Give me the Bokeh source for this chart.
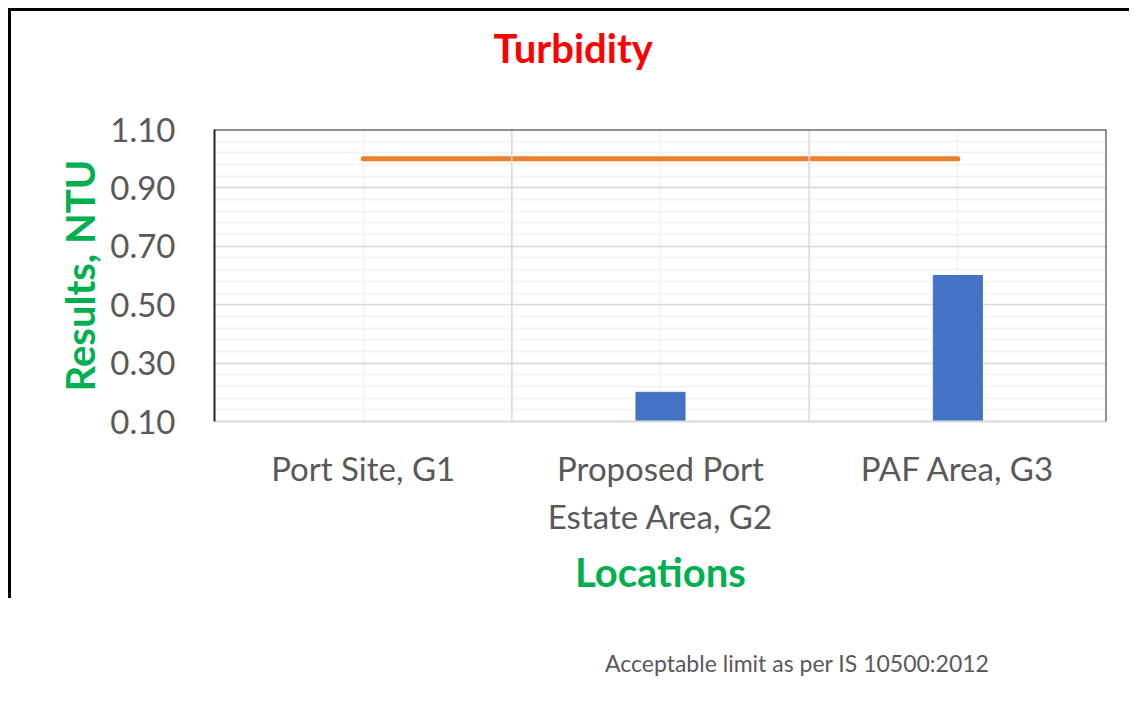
from bokeh.plotting import figure
from bokeh.layouts import column
from bokeh.models import (Range1d, FactorRange, FixedTicker, NumeralTickFormatter,
                          Span, Legend, LegendItem)
from bokeh.embed import file_html
from bokeh.resources import INLINE

# ---- data ----
categories = ["Port Site, G1", "Proposed Port\nEstate Area, G2", "PAF Area, G3"]
results = [0.1, 0.2, 0.6]
limit = [1.0, 1.0, 1.0]
limit_label = "Acceptable limit as per IS 10500:2012"
y_ticks = [0.10, 0.30, 0.50, 0.70, 0.90, 1.10]
y_minor = [0.10, 0.14, 0.18, 0.22, 0.26, 0.30, 0.34, 0.38, 0.42, 0.46, 0.50,
           0.54, 0.58, 0.62, 0.66, 0.70, 0.74, 0.78, 0.82, 0.86, 0.90, 0.94,
           0.98, 1.02, 1.06, 1.10]

FONT = "Lato"
GREY = "#595959"
GREEN = "#00B050"
ORANGE = "#ED7D31"

p = figure(x_range=FactorRange(*categories), y_range=Range1d(0.1, 1.1),
           frame_width=892, frame_height=292,
           output_backend="svg", toolbar_location=None,
           min_border_left=203, min_border_right=23, min_border_top=118,
           min_border_bottom=0)
p.outline_line_color = None
p.background_fill_color = "white"
p.border_fill_color = "white"

# title (trailing empty line lifts the text within the title box)
p.title.text = "Turbidity\n"
p.title.align = "left"
p.title.text_font = FONT
p.title.text_font_size = "40px"
p.title.text_font_style = "bold"
p.title.text_color = "#FF0000"
p.title.text_line_height = 1.0
p.title.offset = 279
p.title.standoff = 20

# grids
p.ygrid.ticker = FixedTicker(ticks=y_ticks, minor_ticks=y_minor)
p.ygrid.grid_line_color = "#D9D9D9"
p.ygrid.grid_line_width = 1.5
p.ygrid.minor_grid_line_color = "#F2F2F2"
p.ygrid.minor_grid_line_width = 1.5
p.xgrid.grid_line_color = "#F2F2F2"
p.xgrid.grid_line_width = 1.5
for loc in (1, 2):
    p.add_layout(Span(location=loc, dimension="height", line_color="#D9D9D9", line_width=1.5))
p.add_layout(Span(location=1.1, dimension="width", line_color="#262626", line_width=2))
p.add_layout(Span(location=3, dimension="height", line_color="#262626", line_width=2))

# bars and limit line
p.vbar(x=categories, top=results, bottom=0.1, width=0.165, fill_color="#4472C4",
       line_color="#4472C4")
p.line(x=categories, y=limit, line_color=ORANGE, line_width=5, line_cap="round")

# y axis
yax = p.yaxis[0]
yax.ticker = FixedTicker(ticks=y_ticks, minor_ticks=y_minor)
yax.formatter = NumeralTickFormatter(format="0.00")
yax.axis_line_color = "#262626"
yax.axis_line_width = 2
yax.major_tick_line_color = None
yax.minor_tick_line_color = None
yax.major_label_text_font = FONT
yax.major_label_text_font_size = "33px"
yax.major_label_text_color = GREY
yax.major_label_standoff = 33
yax.axis_label = "Results, NTU"
yax.axis_label_text_font = FONT
yax.axis_label_text_font_size = "40px"
yax.axis_label_text_font_style = "bold"
yax.axis_label_text_color = GREEN
yax.axis_label_standoff = 3

# x axis
xax = p.xaxis[0]
xax.axis_line_color = "#D9D9D9"
xax.axis_line_width = 2
xax.major_tick_line_color = None
xax.minor_tick_line_color = None
xax.major_label_orientation = "horizontal"
xax.major_label_text_font = FONT
xax.major_label_text_font_size = "33px"
xax.major_label_text_color = GREY
xax.major_label_text_line_height = 1.2
xax.major_label_standoff = 20
xax.axis_label = "Locations"
xax.axis_label_text_font = FONT
xax.axis_label_text_font_size = "40px"
xax.axis_label_text_font_style = "bold"
xax.axis_label_text_color = GREEN
xax.axis_label_standoff = 9

# legend strip (separate small figure, positioned under the chart)
p2 = figure(width=1118, height=40, output_backend="svg", toolbar_location=None,
            x_range=Range1d(0, 1), y_range=Range1d(0, 1), min_border=0)
p2.xaxis.visible = False
p2.yaxis.visible = False
p2.xgrid.visible = False
p2.ygrid.visible = False
p2.outline_line_color = None
p2.background_fill_alpha = 0
p2.border_fill_alpha = 0
r2 = p2.line(x=[], y=[], line_color=ORANGE, line_width=5, line_cap="round")
legend = Legend(items=[LegendItem(label=limit_label, renderers=[r2])],
                location=(319, 7), orientation="horizontal",
                glyph_width=67, glyph_height=26, label_standoff=5,
                padding=0, margin=0, border_line_color=None,
                background_fill_alpha=0, label_text_font=FONT,
                label_text_font_size="23px", label_text_color=GREY)
p2.add_layout(legend)
p2.styles = {"position": "absolute", "left": "0px", "top": "633px"}

layout = column(p, p2)
layout.styles = {"position": "relative", "margin-left": "8px", "margin-top": "8px",
                 "border-left": "3px solid black", "border-top": "3px solid black"}

open("out.html", "w").write(file_html(layout, INLINE))
